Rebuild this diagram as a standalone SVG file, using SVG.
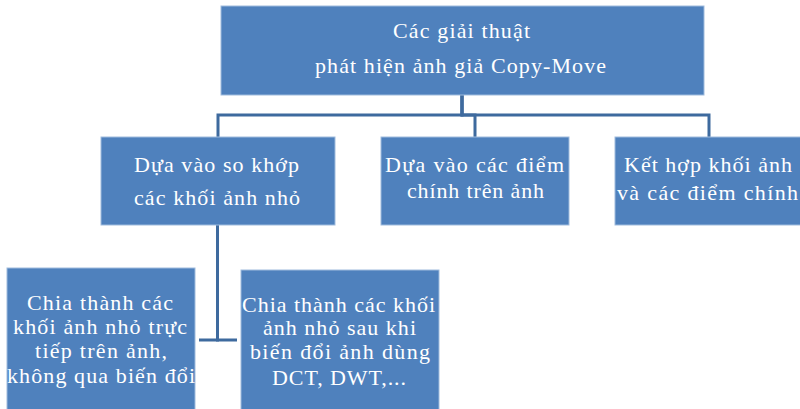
<svg xmlns="http://www.w3.org/2000/svg" width="800" height="409" viewBox="0 0 800 409">
<style>
.box{fill:#4F81BD;stroke:#9FBBDD;stroke-width:1}
.t{font-family:"Liberation Serif","Times New Roman",serif;font-size:22px;fill:#fff;text-anchor:middle}
.c{fill:none;stroke:#3E6A9E;stroke-width:3}
</style>
<rect width="800" height="409" fill="#fff"/>
<g id="connectors">
<path class="c" d="M462,95 V115 H218 V137"/>
<path class="c" d="M462,95 V115 H475 V137"/>
<path class="c" d="M462,95 V115 H709 V137"/>
<path class="c" d="M217.5,225 V340 H199"/>
<path class="c" d="M217.5,225 V340 H237"/>
</g>
<g id="root">
<rect class="box" x="221" y="6" width="483" height="89"/>
<text class="t" x="461.5" y="38" textLength="137" lengthAdjust="spacing">Các giải thuật</text>
<text class="t" x="460.5" y="73" textLength="291" lengthAdjust="spacing">phát hiện ảnh giả Copy-Move</text>
</g>
<g id="block">
<rect class="box" x="101" y="137" width="234" height="88"/>
<text class="t" x="216.5" y="172" textLength="165" lengthAdjust="spacing">Dựa vào so khớp</text>
<text class="t" x="217" y="205" textLength="166" lengthAdjust="spacing">các khối ảnh nhỏ</text>
</g>
<g id="keypoint">
<rect class="box" x="381" y="137" width="188" height="88"/>
<text class="t" x="474.5" y="172" textLength="179" lengthAdjust="spacing">Dựa vào các điểm</text>
<text class="t" x="475.5" y="198" textLength="137" lengthAdjust="spacing">chính trên ảnh</text>
</g>
<g id="hybrid">
<rect class="box" x="615" y="137" width="190" height="88"/>
<text class="t" x="708" y="172" textLength="168" lengthAdjust="spacing">Kết hợp khối ảnh</text>
<text class="t" x="707.5" y="200" textLength="181" lengthAdjust="spacing">và các điểm chính</text>
</g>
<g id="direct">
<rect class="box" x="7" y="268" width="188" height="150"/>
<text class="t" x="100" y="310" textLength="146" lengthAdjust="spacing">Chia thành các</text>
<text class="t" x="100" y="334" textLength="174" lengthAdjust="spacing">khối ảnh nhỏ trực</text>
<text class="t" x="101" y="358" textLength="132" lengthAdjust="spacing">tiếp trên ảnh,</text>
<text class="t" x="101" y="383" textLength="188" lengthAdjust="spacing">không qua biến đổi</text>
</g>
<g id="transform">
<rect class="box" x="241" y="270" width="198" height="150"/>
<text class="t" x="338.5" y="312" textLength="193" lengthAdjust="spacing">Chia thành các khối</text>
<text class="t" x="339.5" y="335" textLength="153" lengthAdjust="spacing">ảnh nhỏ sau khi</text>
<text class="t" x="340" y="359" textLength="180" lengthAdjust="spacing">biến đổi ảnh dùng</text>
<text class="t" x="339" y="385" textLength="134" lengthAdjust="spacing">DCT, DWT,...</text>
</g>
</svg>
